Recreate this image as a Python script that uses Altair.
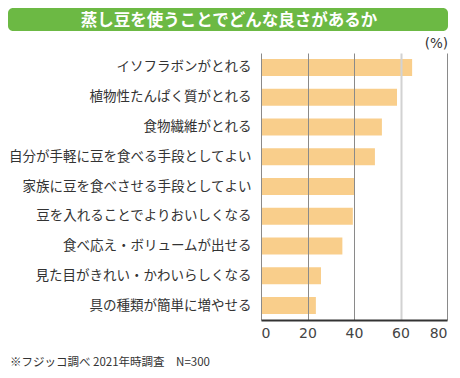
import altair as alt
import pandas as pd

title_text = "蒸し豆を使うことでどんな良さがあるか"
unit_text = "(%)"
note_text = "※フジッコ調べ 2021年時調査　N=300"

items = [
    "イソフラボンがとれる",
    "植物性たんぱく質がとれる",
    "食物繊維がとれる",
    "自分が手軽に豆を食べる手段としてよい",
    "家族に豆を食べさせる手段としてよい",
    "豆を入れることでよりおいしくなる",
    "食べ応え・ボリュームが出せる",
    "見た目がきれい・かわいらしくなる",
    "具の種類が簡単に増やせる",
]
values = [65, 58.5, 52, 49, 40, 39.5, 35, 25.8, 23.6]
x_ticks = [0, 20, 40, 60, 80]

df = pd.DataFrame({"item": items, "value": values})
JP = "Noto Sans CJK JP"

bars = alt.Chart(df).mark_bar(color="#f9ce8b").encode(
    x=alt.X(
        "value:Q",
        scale=alt.Scale(domain=[0, 80], nice=False),
        axis=alt.Axis(
            values=x_ticks,
            title=None,
            grid=True,
            gridColor={"condition": {"test": "datum.value === 60", "value": "#d2d2d2"}, "value": "#8a8a8a"},
            gridWidth={"condition": {"test": "datum.value === 60", "value": 2}, "value": 1},
            domainColor="#333333",
            domainWidth=2,
            ticks=False,
            labelFlush=True,
            labelFont="DejaVu Sans",
            labelFontSize=14,
            labelColor="#444444",
            labelPadding=6,
            zindex=1,
        ),
    ),
    y=alt.Y(
        "item:N",
        sort=items,
        scale=alt.Scale(paddingInner=0.43, paddingOuter=0.2),
        axis=alt.Axis(
            title=None,
            domain=False,
            ticks=False,
            labelFont=JP,
            labelFontSize=13.5,
            labelColor="#333333",
            labelPadding=10,
            labelLimit=400,
        ),
    ),
)

banner = alt.Chart(pd.DataFrame({"t": [title_text]})).mark_rect(
    color="#6cb944", cornerRadius=5
).encode(
    x=alt.value(-253), x2=alt.value(187), y=alt.value(-45), y2=alt.value(-22)
)

title = alt.Chart(pd.DataFrame({"t": [title_text]})).mark_text(
    font=JP, fontSize=16.5, fontWeight="bold", color="white", align="center", baseline="middle"
).encode(text="t:N", x=alt.value(-32), y=alt.value(-32.5))

unit = alt.Chart(pd.DataFrame({"t": [unit_text]})).mark_text(
    font="DejaVu Sans", fontSize=13.5, color="#333333", align="right", baseline="middle"
).encode(text="t:N", x=alt.value(187), y=alt.value(-9))

note = alt.Chart(pd.DataFrame({"t": [note_text]})).mark_text(
    font=JP, fontSize=11.5, color="#333333", align="left", baseline="middle"
).encode(text="t:N", x=alt.value(-251), y=alt.value(310))

chart = alt.layer(banner, bars, title, unit, note).properties(
    width=186,
    height=267,
    autosize=alt.AutoSizeParams(type="none"),
    padding={"left": 253, "top": 45, "right": 3, "bottom": 50},
).configure_view(stroke=None)

chart.save("out.html", embed_options={"renderer": "svg", "actions": False})
